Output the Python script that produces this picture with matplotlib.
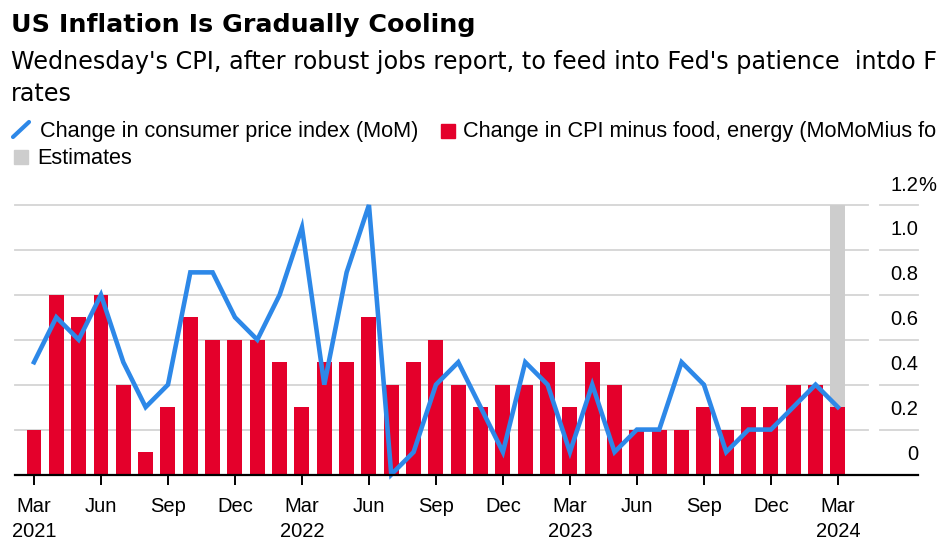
import matplotlib.pyplot as plt
from matplotlib.patches import Rectangle
from matplotlib.lines import Line2D

plt.rcParams['font.family'] = ['Liberation Sans', 'DejaVu Sans']

# monthly data, Mar 2021 .. Mar 2024
n_months = 37
core_cpi = [0.2, 0.8, 0.7, 0.8, 0.4, 0.1, 0.3, 0.7, 0.6, 0.6, 0.6, 0.5,
            0.3, 0.5, 0.5, 0.7, 0.4, 0.5, 0.6, 0.4, 0.3, 0.4, 0.4, 0.5,
            0.3, 0.5, 0.4, 0.2, 0.2, 0.2, 0.3, 0.2, 0.3, 0.3, 0.4, 0.4, 0.3]
cpi = [0.5, 0.7, 0.6, 0.8, 0.5, 0.3, 0.4, 0.9, 0.9, 0.7, 0.6, 0.8,
       1.1, 0.4, 0.9, 1.2, 0.0, 0.1, 0.4, 0.5, 0.3, 0.1, 0.5, 0.4,
       0.1, 0.4, 0.1, 0.2, 0.2, 0.5, 0.4, 0.1, 0.2, 0.2, 0.3, 0.4, 0.3]
estimate_idx = [36]
estimate_top = 1.2

tick_pos = list(range(0, 37, 3))
tick_labels = ["Mar\n2021", "Jun", "Sep", "Dec", "Mar\n2022", "Jun", "Sep", "Dec",
               "Mar\n2023", "Jun", "Sep", "Dec", "Mar\n2024"]
y_ticks = [0, 0.2, 0.4, 0.6, 0.8, 1.0, 1.2]
y_labels = ["0", "0.2", "0.4", "0.6", "0.8", "1.0", "1.2"]

RED = "#E4002B"
BLUE = "#2D88E8"
GRAY = "#CDCDCD"
GRID = "#D4D4D4"

W, H = 948, 550
fig = plt.figure(figsize=(W / 100, H / 100), dpi=100)

# axes placed in pixel terms
ax_l, ax_r, ax_b, ax_t = 15, 918, 474.5, 205
ax = fig.add_axes([ax_l / W, (H - ax_b) / H, (ax_r - ax_l) / W, (ax_b - ax_t) / H])
px_per_month = 22.33
x0 = (ax_l - 34) / px_per_month
x1 = (ax_r - 34) / px_per_month
ax.set_xlim(x0, x1)
ax.set_ylim(0, 1.2)

x = list(range(n_months))

# gridlines, with a gap before the labels
gap_a = (868 - 34) / px_per_month
gap_b = (880 - 34) / px_per_month
for v in y_ticks[1:]:
    ax.plot([x0, gap_a], [v, v], color=GRID, lw=1.3, zorder=0, clip_on=False)
    ax.plot([gap_b, x1], [v, v], color=GRID, lw=1.3, zorder=0, clip_on=False)

ax.bar([x[i] for i in estimate_idx], [estimate_top] * len(estimate_idx),
       width=0.67, color=GRAY, zorder=1)
ax.bar(x, core_cpi, width=0.67, color=RED, zorder=2)
ax.plot(x, cpi, color=BLUE, lw=3.3, zorder=3, clip_on=False,
        solid_joinstyle="miter")

ax.axhline(0, color="black", lw=1.6, zorder=4, clip_on=False)

for s in ax.spines.values():
    s.set_visible(False)
ax.set_yticks([])
ax.set_xticks(tick_pos)
ax.set_xticklabels(tick_labels, fontsize=14.5, linespacing=1.4)
ax.tick_params(axis="x", length=7, width=1.4, color="black", pad=9)

for v, lab in zip(y_ticks, y_labels):
    ax.annotate(lab, xy=(x1, v), xytext=(0, 20), textcoords="offset pixels",
                ha="right", va="center", fontsize=14.5, annotation_clip=False)
ax.annotate("%", xy=(x1, 1.2), xytext=(0, 20), textcoords="offset pixels",
            ha="left", va="center", fontsize=14.5, annotation_clip=False)

# header texts
def ftxt(px, py, s, **kw):
    fig.text(px / W, 1 - py / H, s, **kw)

ftxt(11, 32, "US Inflation Is Gradually Cooling", fontsize=18.3,
     fontweight="bold", va="baseline", family="DejaVu Sans")
ftxt(11, 69, "Wednesday's CPI, after robust jobs report, to feed into Fed's patience  intdo F",
     fontsize=17.2, va="baseline", family="DejaVu Sans")
ftxt(11, 101, "rates", fontsize=17.2, va="baseline", family="DejaVu Sans")

# legend
fig.add_artist(Line2D([13 / W, 29 / W], [1 - 137 / H, 1 - 122 / H],
                      color=BLUE, lw=3, solid_capstyle="round"))
ftxt(40, 137, "Change in consumer price index (MoM)", fontsize=15.6, va="baseline")
fig.add_artist(Rectangle((441 / W, 1 - 138 / H), 14 / W, 14 / H,
                         transform=fig.transFigure, color=RED))
ftxt(463, 137, "Change in CPI minus food, energy (MoMoMius fo", fontsize=15.6,
     va="baseline")
fig.add_artist(Rectangle((14 / W, 1 - 164 / H), 14 / W, 14 / H,
                         transform=fig.transFigure, color=GRAY))
ftxt(37, 164, "Estimates", fontsize=15.6, va="baseline")

fig.savefig("out.png", dpi=100)
